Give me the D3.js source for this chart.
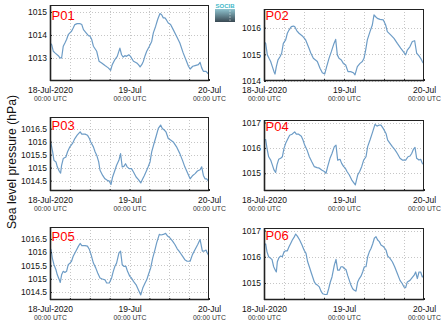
<!DOCTYPE html>
<html><head><meta charset="utf-8">
<script src="https://cdn.jsdelivr.net/npm/d3@7"></script>
<style>body{margin:0;background:#fff}svg{display:block;font-family:"Liberation Sans",Arial,sans-serif}</style>
</head><body><svg width="442" height="327"></svg>
<script>
// ---- DATA ----
const stations = ["P01","P02","P03","P04","P05","P06"];
const dayLabels = ["18-Jul-2020","19-Jul","20-Jul"];
const hourLabel = "00:00 UTC";
const yLabel = "Sea level pressure (hPa)";
// [hours since 18-Jul-2020 00:00 UTC, hPa]
const p01 = [[0,1013.65],[0.5,1013.58],[1,1013.29],[1.5,1013.22],[2.5,1013.10],[3,1013.00],[3.5,1013.00],[4,1013.51],[4.5,1013.65],[5,1013.80],[5.5,1014.01],[6,1014.09],[6.5,1014.16],[7,1014.30],[7.5,1014.45],[8.2,1014.49],[9.1,1014.49],[9.6,1014.45],[10.1,1014.23],[10.9,1014.09],[11.6,1013.97],[12.1,1013.94],[12.6,1013.80],[13.1,1013.51],[14.1,1013.29],[14.8,1012.86],[15.6,1012.78],[16.6,1012.67],[17.6,1012.57],[18.3,1012.46],[18.8,1012.71],[19.6,1012.93],[20.3,1013.07],[21.1,1013.43],[21.6,1013.14],[22.1,1013.04],[22.6,1013.10],[23.1,1013.07],[23.8,1013.14],[24.3,1013.07],[25.2,1012.86],[26.2,1012.78],[26.7,1012.71],[27.2,1012.61],[27.7,1012.71],[28.2,1012.86],[28.7,1013.10],[29.2,1013.29],[30,1013.51],[30.7,1013.72],[31.2,1014.09],[31.9,1014.38],[32.5,1014.67],[33.2,1014.93],[33.7,1014.88],[34.2,1014.74],[34.7,1014.74],[35.2,1014.64],[35.7,1014.52],[36.4,1014.45],[37.2,1014.23],[38.2,1013.94],[39.2,1013.65],[40.2,1013.22],[41,1012.93],[41.8,1012.64],[42.3,1012.52],[43.1,1012.64],[43.8,1012.67],[44.8,1012.71],[45.3,1012.81],[45.8,1012.57],[46.3,1012.42],[47.1,1012.42],[48,1012.28]];
const p02 = [[0,1015.48],[0.5,1015.41],[1,1014.98],[1.5,1014.85],[2,1014.73],[2.5,1014.54],[3,1014.35],[3.3,1014.26],[3.7,1014.54],[4.2,1014.79],[4.8,1014.91],[5.3,1015.04],[5.8,1015.41],[6.5,1015.54],[7,1015.79],[7.5,1015.91],[8.2,1016.04],[8.8,1016.06],[9.2,1016.04],[9.8,1015.89],[10.5,1015.79],[11.5,1015.69],[12.5,1015.54],[13.5,1015.23],[14,1015.06],[14.8,1014.85],[16,1014.73],[16.8,1014.48],[17.5,1014.31],[18.2,1014.26],[18.8,1014.54],[19.5,1014.85],[20.2,1015.10],[21,1015.41],[21.5,1015.56],[22,1014.98],[22.5,1014.85],[23.2,1014.79],[23.8,1014.66],[24.5,1014.60],[25.2,1014.35],[26,1014.35],[26.8,1014.31],[27.3,1014.23],[28,1014.54],[28.8,1014.66],[29.5,1014.73],[30,1014.85],[30.5,1015.16],[31,1015.54],[31.8,1015.85],[32.5,1016.10],[33,1016.48],[33.5,1016.41],[34,1016.35],[34.8,1016.31],[35.8,1016.29],[36.5,1016.10],[37,1015.85],[38,1015.73],[39,1015.60],[40,1015.41],[41,1015.23],[41.8,1015.10],[42.5,1014.98],[43,1015.16],[43.8,1015.29],[44.5,1015.48],[45.2,1015.51],[45.8,1015.04],[46.5,1014.94],[47,1014.85],[47.5,1014.73],[48,1014.64]];
const p03 = [[0,1015.99],[0.3,1015.93],[0.8,1015.61],[1.2,1015.28],[1.8,1015.22],[2.2,1015.03],[2.8,1014.86],[3.2,1014.79],[3.5,1015.09],[4,1015.35],[4.8,1015.41],[5.3,1015.61],[6,1015.80],[6.8,1015.93],[7.5,1016.12],[8.2,1016.25],[9.1,1016.38],[9.6,1016.29],[10.6,1016.29],[11.3,1016.25],[11.9,1016.12],[12.3,1015.99],[13.1,1015.80],[13.6,1015.61],[14.1,1015.48],[14.7,1015.22],[15.1,1014.90],[15.9,1014.70],[16.6,1014.57],[17.3,1014.51],[17.9,1014.48],[18.4,1014.35],[18.9,1014.64],[19.6,1014.90],[20.1,1015.09],[20.8,1015.28],[21.3,1015.54],[21.8,1015.03],[22.3,1015.05],[22.8,1015.15],[23.3,1015.03],[23.9,1014.96],[24.6,1014.96],[25.2,1014.83],[26,1014.64],[26.7,1014.54],[27.4,1014.41],[28,1014.57],[28.5,1014.70],[29.2,1014.90],[29.7,1015.05],[30.2,1015.22],[30.7,1015.61],[31.4,1015.93],[32,1016.19],[32.7,1016.51],[33.4,1016.64],[33.9,1016.51],[34.5,1016.45],[35,1016.38],[35.7,1016.12],[36.4,1016.06],[37.2,1015.99],[38.2,1015.80],[39.2,1015.54],[40,1015.28],[40.7,1015.03],[41.4,1014.83],[42.3,1014.57],[43.1,1014.70],[43.8,1014.77],[44.5,1014.87],[45.3,1014.92],[45.8,1015.03],[46.3,1014.70],[46.8,1014.57],[47.3,1014.57],[48,1014.45]];
const p04 = [[0,1016.31],[0.5,1016.33],[0.9,1015.98],[1.4,1015.65],[2,1015.52],[2.5,1015.33],[3,1015.13],[3.5,1015.03],[3.9,1015.33],[4.4,1015.55],[5,1015.59],[5.5,1015.65],[6,1015.98],[6.5,1016.18],[7.2,1016.37],[7.7,1016.50],[8.4,1016.54],[9.2,1016.63],[9.7,1016.54],[10.4,1016.54],[11.2,1016.46],[11.7,1016.31],[12.2,1016.11],[12.9,1015.92],[13.6,1015.65],[14.3,1015.46],[15.1,1015.26],[15.9,1015.22],[16.6,1015.20],[17.3,1015.13],[18.1,1015.07],[18.6,1015.00],[19.1,1015.26],[19.8,1015.59],[20.4,1015.78],[21.1,1016.05],[21.6,1016.11],[22.1,1015.52],[22.8,1015.55],[23.3,1015.39],[23.9,1015.26],[24.4,1015.20],[24.9,1015.07],[25.6,1014.93],[26.3,1014.74],[26.9,1014.63],[27.4,1014.54],[28.1,1014.93],[28.7,1015.07],[29.3,1015.26],[29.9,1015.52],[30.6,1015.65],[31.1,1016.05],[31.8,1016.31],[32.6,1016.63],[33.3,1016.93],[33.9,1016.86],[34.6,1016.90],[35.1,1016.90],[35.8,1016.76],[36.6,1016.57],[37.1,1016.31],[37.8,1016.18],[38.5,1016.05],[39.2,1015.94],[40,1015.78],[40.8,1015.59],[41.5,1015.52],[42.5,1015.52],[43.2,1015.65],[43.8,1015.68],[44.3,1015.78],[44.8,1015.94],[45.3,1016.02],[45.8,1015.59],[46.5,1015.52],[47,1015.55],[47.5,1015.39],[48,1015.33]];
const p05 = [[0,1016.16],[0.3,1016.10],[0.7,1015.78],[1.2,1015.53],[1.8,1015.34],[2.2,1015.15],[2.8,1014.96],[3.1,1014.86],[3.5,1015.15],[4,1015.28],[4.5,1015.24],[5,1015.28],[5.5,1015.53],[6,1015.59],[6.5,1015.66],[7,1015.85],[7.8,1016.04],[8.6,1016.23],[9.1,1016.33],[9.6,1016.25],[10.6,1016.25],[11.3,1016.23],[11.9,1016.10],[12.4,1015.91],[13.1,1015.59],[13.8,1015.41],[14.4,1015.22],[15.1,1015.03],[15.8,1014.99],[16.6,1014.96],[17.1,1014.84],[17.9,1014.84],[18.6,1015.03],[19.1,1015.28],[19.6,1015.47],[20.1,1015.59],[20.8,1015.97],[21.3,1016.04],[21.8,1015.53],[22.3,1015.47],[22.9,1015.47],[23.4,1015.28],[24.1,1015.09],[24.6,1015.03],[25.2,1014.90],[26,1014.77],[26.7,1014.58],[27.4,1014.39],[28,1014.65],[28.7,1014.84],[29.2,1014.96],[29.7,1015.15],[30.4,1015.41],[31,1015.78],[31.7,1016.10],[32.2,1016.35],[33,1016.67],[33.5,1016.65],[34.2,1016.67],[34.9,1016.71],[35.5,1016.61],[36.2,1016.54],[37,1016.42],[37.7,1016.29],[38.4,1016.13],[39.2,1016.00],[40,1015.85],[40.7,1015.72],[41.4,1015.66],[42.3,1015.66],[43,1015.91],[43.8,1016.10],[44.6,1016.29],[45.3,1016.48],[46,1016.04],[46.5,1016.04],[47.1,1016.08],[47.5,1015.97],[48,1015.85]];
const p06 = [[0,1016.45],[0.5,1016.49],[0.9,1016.19],[1.4,1016.00],[2,1015.94],[2.4,1015.90],[2.9,1015.62],[3.4,1015.49],[3.7,1015.42],[4,1015.81],[4.5,1015.97],[5,1016.03],[5.5,1016.00],[6,1016.19],[6.5,1016.23],[7,1016.23],[7.5,1016.38],[8,1016.51],[8.5,1016.64],[9,1016.74],[9.5,1016.87],[10,1016.79],[10.7,1016.64],[11.4,1016.45],[12,1016.26],[12.6,1016.13],[13.1,1015.81],[13.6,1015.62],[14.1,1015.42],[14.6,1015.23],[15.1,1015.04],[15.6,1014.95],[16.1,1014.91],[16.6,1014.85],[17.1,1014.69],[17.6,1014.59],[18.3,1014.56],[18.9,1014.56],[19.4,1014.78],[19.9,1015.04],[20.4,1015.23],[21.1,1015.68],[21.6,1015.90],[22.1,1015.49],[22.6,1015.49],[23.1,1015.62],[23.6,1015.62],[24.1,1015.55],[24.6,1015.51],[25.1,1015.29],[25.6,1015.10],[26.1,1014.91],[26.6,1014.78],[27.1,1014.72],[27.6,1014.69],[28.1,1015.04],[28.6,1015.17],[29.1,1015.26],[29.6,1015.42],[30.1,1015.62],[30.6,1015.62],[31.1,1016.00],[31.6,1016.19],[32.1,1016.32],[32.6,1016.49],[33.1,1016.71],[33.6,1016.77],[34.1,1016.64],[34.6,1016.58],[35.1,1016.45],[35.9,1016.38],[36.6,1016.26],[37.1,1016.03],[37.8,1015.94],[38.5,1015.81],[39.2,1015.62],[40,1015.36],[40.8,1015.10],[41.5,1014.97],[42,1014.85],[42.5,1014.82],[43,1015.04],[43.8,1015.10],[44.5,1015.21],[45,1015.29],[45.5,1015.42],[46,1015.17],[46.5,1015.42],[47,1015.42],[47.5,1015.23],[48,1015.29]];
const yTicks01 = [1013,1014,1015];
const yTicks02 = [1014,1015,1016];
const yTicks03 = [1014.5,1015,1015.5,1016,1016.5];
const yTicks04 = [1015,1016,1017];
const yTicks05 = [1014.5,1015,1015.5,1016,1016.5];
const yTicks06 = [1015,1016,1017];
const yLimits = [[1012,1015.3],[1014,1016.7],[1014.1,1016.95],[1014.3,1017.1],[1014.2,1016.95],[1014.35,1017.1]];

// ---- LAYOUT ----
const series = [p01,p02,p03,p04,p05,p06];
const yTickSets = [yTicks01,yTicks02,yTicks03,yTicks04,yTicks05,yTicks06];
const boxes = [
  {x0:50,x1:209,y0:5,y1:81,ly:20},
  {x0:264,x1:424,y0:9,y1:81,ly:20},
  {x0:50,x1:209,y0:117,y1:191,ly:130},
  {x0:264,x1:424,y0:120,y1:191,ly:130.5},
  {x0:50,x1:209,y0:227,y1:300,ly:240.5},
  {x0:264,x1:424,y0:228,y1:300,ly:239.5}
];
const t0 = Date.UTC(2020,6,18);
const toDate = h => new Date(t0 + h*3600e3);
const svg = d3.select("svg");
const defs = svg.append("defs");
const lineColor = "#6d9cc6";

stations.forEach((name,i)=>{
  const b = boxes[i];
  const x = d3.scaleUtc().domain([toDate(0),toDate(48)]).range([b.x0,b.x1]);
  const y = d3.scaleLinear().domain(yLimits[i]).range([b.y1,b.y0]);
  const g = svg.append("g");
  const sixHours = d3.utcHour.every(6).range(toDate(0), toDate(48.01));
  // grid
  g.append("g").selectAll("line").data(sixHours.filter((d,k)=>k>0 && k<sixHours.length-1)).join("line")
    .attr("x1",d=>Math.round(x(d))+0.5).attr("x2",d=>Math.round(x(d))+0.5)
    .attr("y1",b.y0).attr("y2",b.y1)
    .attr("stroke","#b8b8b8").attr("stroke-width",0.8).attr("stroke-dasharray","1,2");
  g.append("g").selectAll("line").data(yTickSets[i]).join("line")
    .attr("x1",b.x0).attr("x2",b.x1)
    .attr("y1",d=>Math.round(y(d))+0.5).attr("y2",d=>Math.round(y(d))+0.5)
    .attr("stroke","#b8b8b8").attr("stroke-width",0.8).attr("stroke-dasharray","1,2");
  // clip + line
  const cid = "clip"+i;
  defs.append("clipPath").attr("id",cid).append("rect")
    .attr("x",b.x0).attr("y",b.y0).attr("width",b.x1-b.x0).attr("height",b.y1-b.y0);
  g.append("path").datum(series[i]).attr("clip-path",`url(#${cid})`)
    .attr("fill","none").attr("stroke",lineColor).attr("stroke-width",1.2)
    .attr("stroke-linejoin","round")
    .attr("d",d3.line().x(d=>x(toDate(d[0]))).y(d=>y(d[1])));
  // axes
  const yAx = g.append("g").attr("transform",`translate(${b.x0},0)`)
    .call(d3.axisLeft(y).tickValues(yTickSets[i]).tickSize(-2).tickPadding(3).tickFormat(d3.format("~g")));
  yAx.select(".domain").remove();
  yAx.selectAll("text").attr("font-size",8.5).attr("fill","#111").attr("font-family",null);
  yAx.selectAll("line").attr("stroke","#222");
  const xAx = g.append("g").attr("transform",`translate(0,${b.y1})`)
    .call(d3.axisBottom(x).tickValues(sixHours).tickSize(-2).tickPadding(6)
      .tickFormat((d,k)=> k%4===0 ? dayLabels[k/4] : ""));
  xAx.select(".domain").remove();
  xAx.selectAll("line").attr("stroke","#222");
  xAx.selectAll("text").attr("font-size",8.5).attr("fill","#111").attr("font-family",null);
  xAx.selectAll(".tick").filter((d,k)=>k%4===0).append("text")
    .attr("y",20).attr("fill","#333").attr("font-size",6.8).attr("text-anchor","middle")
    .text(hourLabel);
  // frame
  g.append("rect").attr("x",b.x0+0.5).attr("y",b.y0+0.5)
    .attr("width",b.x1-b.x0-1).attr("height",b.y1-b.y0-1)
    .attr("fill","none").attr("stroke","#222").attr("stroke-width",1);
  g.append("line").attr("x1",b.x0+0.5).attr("x2",b.x0+0.5).attr("y1",b.y0).attr("y2",b.y1)
    .attr("stroke","#222").attr("stroke-width",1.6);
  g.append("line").attr("x1",b.x0).attr("x2",b.x1).attr("y1",b.y1-0.5).attr("y2",b.y1-0.5)
    .attr("stroke","#222").attr("stroke-width",1.6);
  // station label
  g.append("text").attr("x",b.x0+1.5).attr("y",b.ly).attr("fill","#ff0000")
    .attr("font-size",13).text(name);
});

// y label
svg.append("text").attr("transform","translate(15.5,162) rotate(-90)")
  .attr("text-anchor","middle").attr("font-size",12.2).attr("fill","#111").text(yLabel);

// logo
const grad = defs.append("linearGradient").attr("id","lg").attr("x1",0).attr("y1",0).attr("x2",0).attr("y2",1);
grad.append("stop").attr("offset","0%").attr("stop-color","#8fc4cf");
grad.append("stop").attr("offset","100%").attr("stop-color","#394852");
const logo = svg.append("g");
logo.append("text").attr("x",225).attr("y",8).attr("text-anchor","middle")
  .attr("font-size",6).attr("font-weight","bold").attr("fill","#3fb8c8").text("SOCIB");
logo.append("rect").attr("x",215).attr("y",9).attr("width",20).attr("height",13).attr("fill","url(#lg)");
logo.selectAll("circle.d").data([11,14,17,20]).join("circle")
  .attr("cx",230).attr("cy",d=>d).attr("r",0.6).attr("fill","#fff");
</script></body></html>
